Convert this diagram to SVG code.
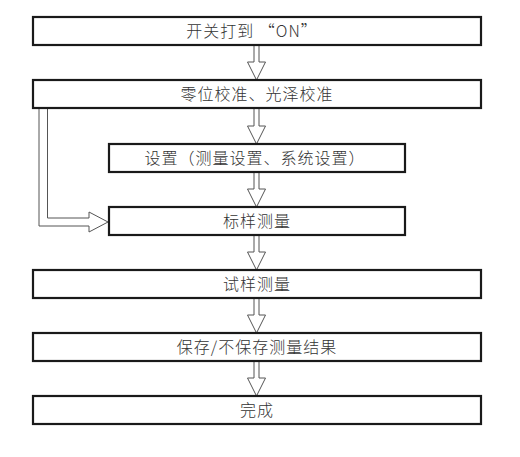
<svg xmlns="http://www.w3.org/2000/svg" width="520" height="457" viewBox="0 0 520 457">
<style>
.box{fill:#fff;stroke:#1a1a1a;stroke-width:2.2}
.lbl{font-family:"Noto Sans CJK SC","Liberation Sans",sans-serif;font-size:16px;font-weight:300;fill:#333;text-anchor:middle;letter-spacing:1px}
.arr{fill:#fff;stroke:#555;stroke-width:1}
</style>
<rect width="520" height="457" fill="#fff"/>
<g id="connectors">
<path class="arr" d="M254,45 V62 H247.5 L256.5,80 L265.5,62 H259 V45"/>
<path class="arr" d="M254,108 V126 H247.5 L256.5,144 L265.5,126 H259 V108"/>
<path class="arr" d="M254,172 V189 H247.5 L256.5,207 L265.5,189 H259 V172"/>
<path class="arr" d="M254,235 V252 H247.5 L256.5,270 L265.5,252 H259 V235"/>
<path class="arr" d="M254,298 V315 H247.5 L256.5,333 L265.5,315 H259 V298"/>
<path class="arr" d="M254,361 V378 H247.5 L256.5,396 L265.5,378 H259 V361"/>
<path class="arr" d="M39,108 V226 H89 V232 L108,222 L89,212 V218 H47.5 V108"/>
</g>
<g id="n1"><rect class="box" x="33" y="17" width="448" height="28"/><text class="lbl" x="252" y="37">开关打到 “ON”</text></g>
<g id="n2"><rect class="box" x="33" y="80" width="448" height="28"/><text class="lbl" x="257" y="100">零位校准、光泽校准</text></g>
<g id="n3"><rect class="box" x="109" y="144" width="296" height="28"/><text class="lbl" x="255" y="164">设置（测量设置、系统设置）</text></g>
<g id="n4"><rect class="box" x="109" y="207" width="296" height="28"/><text class="lbl" x="257" y="227">标样测量</text></g>
<g id="n5"><rect class="box" x="33" y="270" width="448" height="28"/><text class="lbl" x="257" y="290">试样测量</text></g>
<g id="n6"><rect class="box" x="33" y="333" width="448" height="28"/><text class="lbl" x="257" y="353">保存/不保存测量结果</text></g>
<g id="n7"><rect class="box" x="33" y="396" width="448" height="28"/><text class="lbl" x="257" y="416">完成</text></g>
</svg>
